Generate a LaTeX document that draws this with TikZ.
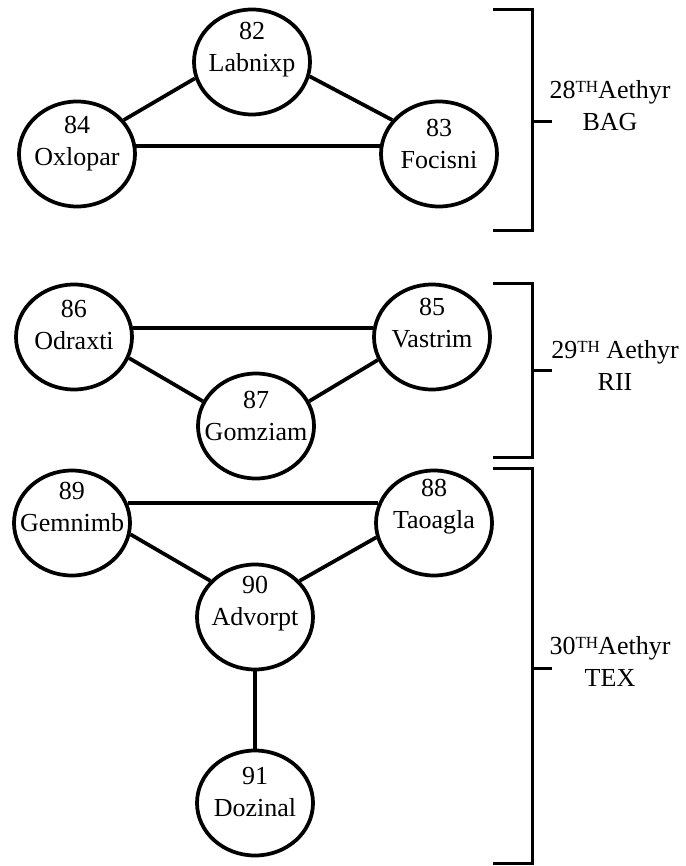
\documentclass[tikz,border=0pt]{standalone}
\usepackage{fontspec}
\setmainfont{Liberation Serif}
\usetikzlibrary{shapes.geometric, calc}
\newcommand{\thsup}{\raisebox{2.4pt}{\fontsize{6.8}{7}\selectfont TH}}

\begin{document}
\begin{tikzpicture}[x=0.4pt, y=-0.4pt,
    font=\fontsize{10.4}{12.8}\selectfont,
    aethyr/.style={ellipse, draw, line width=1.5pt, minimum width=46.4pt,
      minimum height=42pt, inner sep=0pt},
    aename/.style={align=center, inner sep=0pt},
    link/.style={line width=1.5pt},
    brace/.style={line width=1.2pt},
    bracelabel/.style={align=center, inner sep=0pt}]

  \useasboundingbox (0,0) rectangle (686,866);

  % --- 28th aethyr: the three governors ---
  \node[aethyr] (lab) at (252,62)  {};
  \node[aethyr] (oxl) at (77,154)  {};
  \node[aethyr] (foc) at (439,154) {};
  \node[aename] (labt) at ([yshift=5pt]lab.center) {82\\Labnixp};
  \node[aename] (oxlt) at ([yshift=4pt]oxl.center) {84\\Oxlopar};
  \node[aename] (foct) at ([yshift=4pt]foc.center) {83\\Focisni};

  \draw[link] (oxl.36)  -- (lab.196);
  \draw[link] (lab.346) -- (foc.144);
  \draw[link] (oxl.8)   -- (foc.172);

  % --- 29th aethyr ---
  \node[aethyr] (odr) at (74,337)  {};
  \node[aethyr] (vas) at (432,337) {};
  \node[aethyr] (gom) at (256,426) {};
  \node[aename] (odrt) at ([yshift=5pt]odr.center) {86\\Odraxti};
  \node[aename] (vast) at ([yshift=5.5pt]vas.center) {85\\Vastrim};
  \node[aename] (gomt) at ([yshift=4pt]gom.center) {87\\Gomziam};

  \draw[link] (odr.9)   -- (vas.171);
  \draw[link] (odr.339) -- (gom.155);
  \draw[link] (gom.25)  -- (vas.203);

  % --- 30th aethyr ---
  \node[aethyr] (gem) at (72,523)  {};
  \node[aethyr] (tao) at (434,523) {};
  \node[aethyr] (adv) at (255,617) {};
  \node[aethyr] (doz) at (255,803) {};
  \node[aename] (gemt) at ([yshift=6.5pt]gem.center) {89\\Gemnimb};
  \node[aename] (taot) at ([yshift=6.5pt]tao.center) {88\\Taoagla};
  \node[aename] (advt) at ([yshift=5.5pt]adv.center) {90\\Advorpt};
  \node[aename] (dozt) at ([yshift=4.5pt]doz.center) {91\\Dozinal};

  \draw[link] (gem.20)  -- (tao.160);
  \draw[link] (gem.349) -- (adv.141);
  \draw[link] (adv.39)  -- (tao.194);
  \draw[link] (adv.south) -- (doz.north);

  % --- brackets and their labels ---
  \draw[brace] (493,10) -- (532,10) -- (532,230) -- (493,230);
  \draw[brace] (532,122) -- (552,122);
  \node[bracelabel] (bag) at (610,106) {28\thsup Aethyr\\BAG};

  \draw[brace] (493,283) -- (532,283) -- (532,457) -- (493,457);
  \draw[brace] (532,370) -- (552,370);
  \node[bracelabel] (rii) at (615,365) {29\thsup\ Aethyr\\RII};

  \draw[brace] (493,468) -- (532,468) -- (532,863) -- (493,863);
  \draw[brace] (532,668) -- (552,668);
  \node[bracelabel] (tex) at (610,661) {30\thsup Aethyr\\TEX};

\end{tikzpicture}
\end{document}
